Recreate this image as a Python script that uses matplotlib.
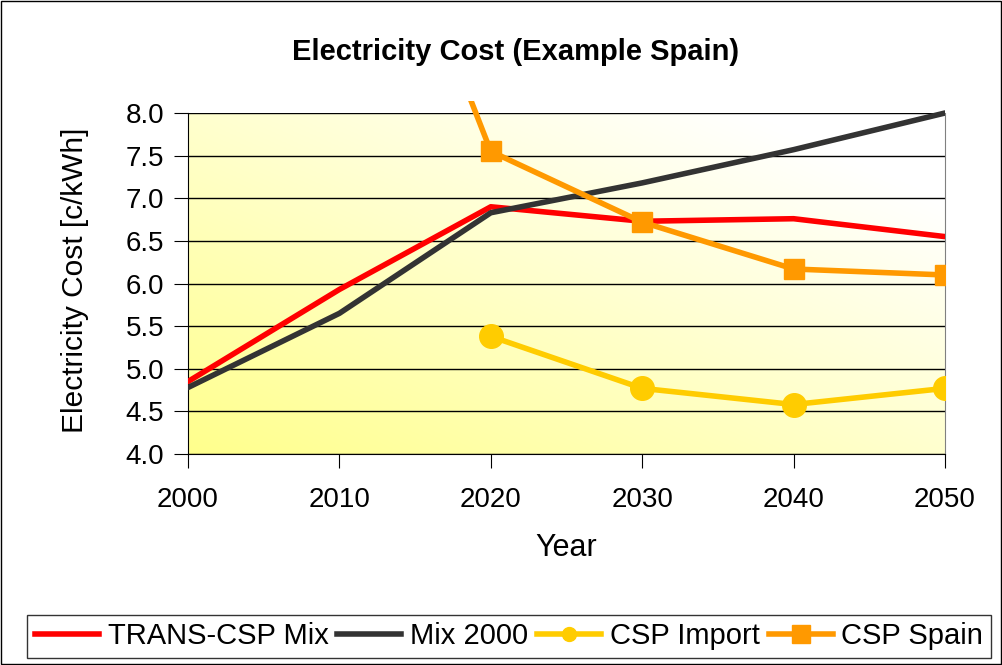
import matplotlib.pyplot as plt
import numpy as np
from matplotlib.patches import Rectangle
from matplotlib.lines import Line2D

plt.rcParams['font.family'] = ['Liberation Sans', 'DejaVu Sans']

years = [2000, 2010, 2020, 2030, 2040, 2050]
trans_csp = [4.85, 5.93, 6.90, 6.73, 6.76, 6.55]
mix2000 = [4.78, 5.65, 6.83, 7.18, 7.57, 8.00]
imp_years = [2020, 2030, 2040, 2050]
csp_import = [5.38, 4.77, 4.58, 4.77]
spain_years = [2010, 2020, 2030, 2040, 2050]
csp_spain = [12.1, 7.55, 6.72, 6.17, 6.10]

W, H = 1003, 665
fig = plt.figure(figsize=(W/100, H/100), dpi=100)
fig.patches.append(Rectangle((0.001, 0.002), 0.997, 0.996, transform=fig.transFigure,
                             fill=False, edgecolor='black', lw=1))
ax = fig.add_axes([188/W, 1-454/H, 757/W, 341/H])

# yellow to white diagonal gradient
gx, gy = np.meshgrid(np.linspace(0, 1, 200), np.linspace(0, 1, 200))
g = np.clip((gx + gy) / 2 * 1.15, 0, 1)
c0 = np.array([1.0, 1.0, 0.55])
c1 = np.array([1.0, 1.0, 1.0])
img = c0[None, None, :] * (1 - g[..., None]) + c1[None, None, :] * g[..., None]
ax.imshow(img, extent=[2000, 2050, 4, 8], origin='lower', aspect='auto', zorder=0)

ax.set_xlim(2000, 2050)
ax.set_ylim(4, 8)
yt = np.arange(4, 8.01, 0.5)
ax.set_yticks(yt)
ax.set_yticklabels(['%.1f' % v for v in yt])
ax.set_xticks(years)
ax.grid(axis='y', color='black', lw=1)
ax.set_axisbelow(True)
ax.spines['top'].set_visible(False)
ax.spines['right'].set_color('#808080')
ax.tick_params(labelsize=20, direction='out', length=10)
ax.tick_params(axis='x', pad=14)
ax.tick_params(axis='y', pad=7)

clip = Rectangle((0, 0), 1, 1 + 12/341, transform=ax.transAxes, fill=False)
lw = 4
l1, = ax.plot(years, trans_csp, color='#FF0000', lw=lw, solid_capstyle='round', zorder=3)
l2, = ax.plot(years, mix2000, color='#333333', lw=lw, solid_capstyle='round', zorder=3)
l3, = ax.plot(imp_years, csp_import, color='#FFCC00', lw=lw, marker='o', ms=17, zorder=4)
l4, = ax.plot(spain_years, csp_spain, color='#FF9900', lw=lw, marker='s', ms=14, zorder=4)
for l in [l1, l2, l3, l4]:
    l.set_clip_path(clip)

fig.text(516/W, 1 - 52/H, 'Electricity Cost (Example Spain)',
         fontsize=21, fontweight='bold', ha='center', va='center')
fig.text((188 + 945) / 2 / W, 1 - 548/H, 'Year', fontsize=22, ha='center', va='center')
fig.text(75/W, 1 - 280/H, 'Electricity Cost [c/kWh]', fontsize=21.5, rotation=90,
         ha='center', va='center')

handles = [Line2D([], [], color='#FF0000', lw=lw),
           Line2D([], [], color='#333333', lw=lw),
           Line2D([], [], color='#FFCC00', lw=lw, marker='o', ms=10),
           Line2D([], [], color='#FF9900', lw=lw, marker='s', ms=13)]
labels = ['TRANS-CSP Mix', 'Mix 2000', 'CSP Import', 'CSP Spain']
leg = fig.legend(handles, labels, loc='center', bbox_to_anchor=(509/W, 1 - 636.5/H),
                 ncol=4, fontsize=21, frameon=True, fancybox=False, edgecolor='black',
                 handlelength=2.2, handletextpad=0.3, columnspacing=0.3, borderpad=0.25,
                 borderaxespad=0)
leg.get_frame().set_linewidth(1)

fig.savefig('out.png', dpi=100)
